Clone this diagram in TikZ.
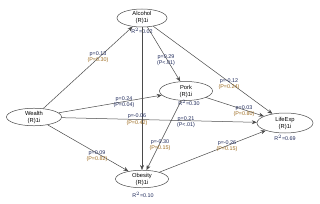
\documentclass[tikz,border=0pt]{standalone}
\usepackage{fontspec}
\setmainfont{Liberation Sans}
\usetikzlibrary{shapes.geometric,arrows.meta}
\definecolor{pcol}{HTML}{1F2A5B}
\definecolor{ncol}{HTML}{9C6A1E}
\definecolor{lcol}{HTML}{4A4A4A}
\begin{document}
\begin{tikzpicture}[x=1pt,y=-1pt,
  latent/.style={ellipse, draw=lcol, line width=0.5pt, inner sep=0pt, align=center,
    font=\fontsize{5.8}{7}\selectfont},
  rel/.style={draw=lcol, line width=0.5pt, -{Stealth[length=5pt,width=4pt]}},
  lab/.style={font=\fontsize{5.4}{6.4}\selectfont, align=center, inner sep=0pt, text=pcol},
  rsq/.style={font=\fontsize{5.4}{6.4}\selectfont, inner sep=0pt, text=pcol}]
\useasboundingbox (0,0) rectangle (320,203);
\node[latent, minimum width=50pt, minimum height=18pt] (alc) at (142,18) {Alcohol\\(R)1i};
\node[latent, minimum width=53pt, minimum height=19pt] (pork) at (186,91) {Pork\\(R)1i};
\node[latent, minimum width=55pt, minimum height=17pt] (wea) at (34,117) {Wealth\\(R)1i};
\node[latent, minimum width=56pt, minimum height=20pt] (life) at (285,123) {LifeExp\\(R)1i};
\node[latent, minimum width=53pt, minimum height=17pt] (obe) at (142,179) {Obesity\\(R)1i};
\node[rsq] (ra) at (142,31) {R$^2$=0.02};
\node[rsq] (rp) at (189,103) {R$^2$=0.30};
\node[rsq] (ro) at (143,195) {R$^2$=0.10};
\node[rsq] (rl) at (285,138) {R$^2$=0.69};
\draw[rel] (wea) -- (alc);
\draw[rel] (wea) -- (pork);
\draw[rel] (wea) -- (life);
\draw[rel] (wea) -- (obe);
\draw[rel] (alc) -- (pork);
\draw[rel] (alc) -- (life);
\draw[rel] (alc) -- (obe);
\draw[rel] (pork) -- (life);
\draw[rel] (pork) -- (obe);
\draw[rel] (obe) -- (life);
\node[lab] (l1) at (98,57) {p=0.13\\\textcolor{ncol}{(P=0.30)}};
\node[lab] (l2) at (124,102) {p=0.24\\(P=0.04)};
\node[lab] (l3) at (137,119.5) {p=-0.06\\\textcolor{ncol}{(P=0.42)}};
\node[lab] (l4) at (186,122) {p=0.21\\(P<.01)};
\node[lab] (l5) at (97,156) {p=0.09\\\textcolor{ncol}{(P=0.82)}};
\node[lab] (l6) at (166,60) {p=0.29\\(P<.01)};
\node[lab] (l7) at (229,84) {p=-0.12\\\textcolor{ncol}{(P=0.24)}};
\node[lab] (l8) at (244,111) {p=0.03\\\textcolor{ncol}{(P=0.80)}};
\node[lab] (l9) at (160,145) {p=-0.30\\\textcolor{ncol}{(P=0.15)}};
\node[lab] (l10) at (227,146) {p=-0.26\\\textcolor{ncol}{(P=0.15)}};
\end{tikzpicture}
\end{document}
